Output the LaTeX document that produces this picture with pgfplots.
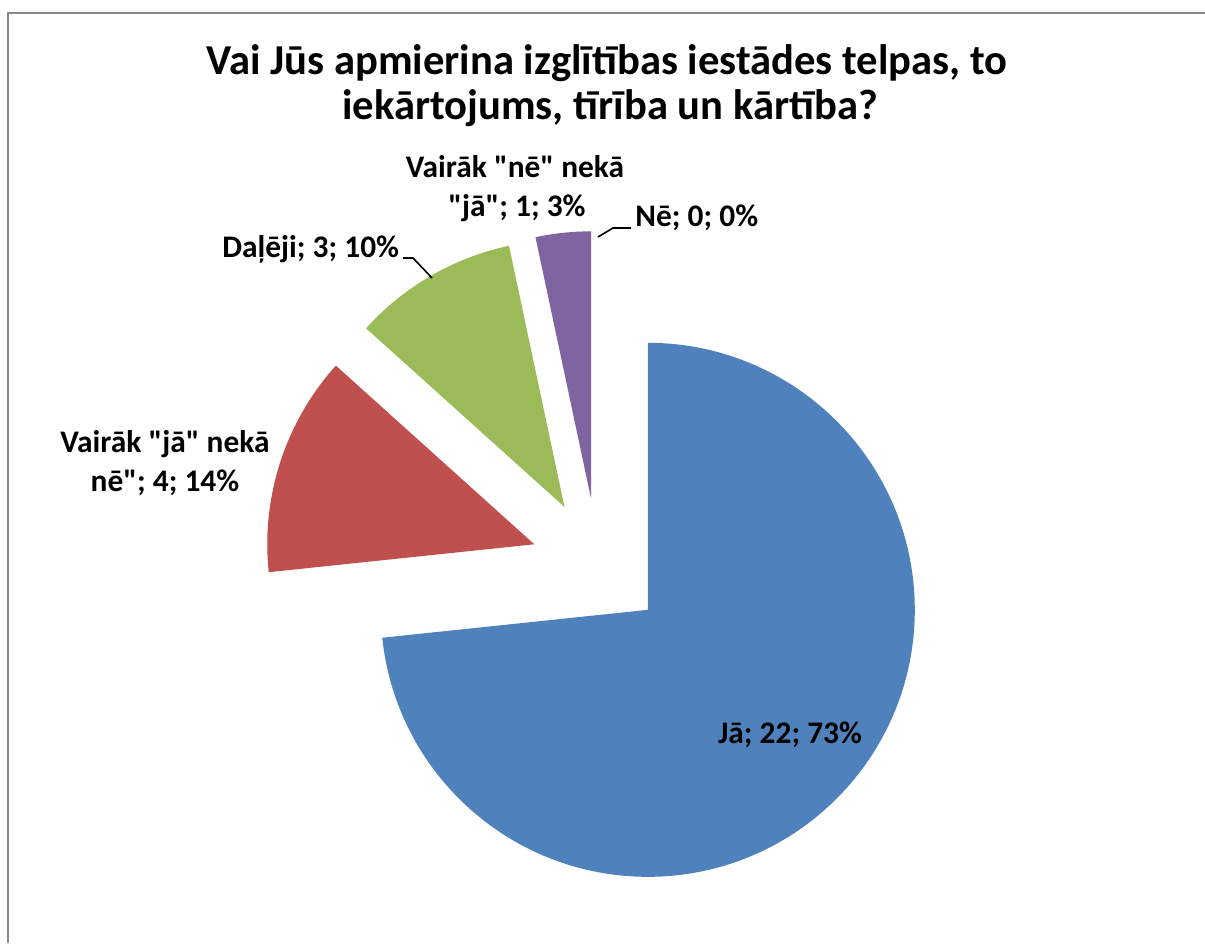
\documentclass[border=0pt]{standalone}
\usepackage{fontspec}
\setmainfont{Carlito}[Ligatures=TeXOff]
\usepackage{pgfplots}
\usepackage{pgfplotstable}
\pgfplotsset{compat=1.18}
\definecolor{sblue}{HTML}{4F81BD}
\definecolor{sred}{HTML}{C0504D}
\definecolor{sgreen}{HTML}{9BBB59}
\definecolor{spurple}{HTML}{8064A2}
\definecolor{frame}{HTML}{878787}
\newcommand\q{\char34\relax}

\pgfplotstableread{
label value
Ja 22
VairakJa 4
Daleji 3
VairakNe 1
Ne 0
}\piedata

\pgfplotstablegetelem{0}{value}\of\piedata \edef\vA{\pgfplotsretval}
\pgfplotstablegetelem{1}{value}\of\piedata \edef\vB{\pgfplotsretval}
\pgfplotstablegetelem{2}{value}\of\piedata \edef\vC{\pgfplotsretval}
\pgfplotstablegetelem{3}{value}\of\piedata \edef\vD{\pgfplotsretval}
\pgfplotstablegetelem{4}{value}\of\piedata \edef\vE{\pgfplotsretval}
\pgfmathsetmacro\total{\vA+\vB+\vC+\vD+\vE}
% angles, clockwise from 12 o'clock
\pgfmathsetmacro\aA{90}
\pgfmathsetmacro\aB{\aA-360*\vA/\total}
\pgfmathsetmacro\aC{\aB-360*\vB/\total}
\pgfmathsetmacro\aD{\aC-360*\vC/\total}
\pgfmathsetmacro\aE{\aD-360*\vD/\total}
\pgfmathsetmacro\mA{(\aA+\aB)/2}
\pgfmathsetmacro\mB{(\aB+\aC)/2}
\pgfmathsetmacro\mC{(\aC+\aD)/2}
\pgfmathsetmacro\mD{(\aD+\aE)/2}
\def\R{133.5pt}
\def\X{33.5pt}

\begin{document}
\begin{tikzpicture}
\begin{axis}[
  width=602.5pt, height=471.5pt, scale only axis,
  xmin=0, xmax=1205, ymin=0, ymax=943,
  hide axis, clip=false,
]
% frame
\draw[frame, line width=1.3pt] (axis cs:8,0) -- (axis cs:8,930) -- (axis cs:1205,930);
% slices
\fill[sblue] (axis cs:598,378) ++(\mA:\X) -- ++(\aA:\R) arc[start angle=\aA, end angle=\aB, radius=\R] -- cycle;
\fill[sred] (axis cs:598,378) ++(\mB:\X) -- ++(\aB:\R) arc[start angle=\aB, end angle=\aC, radius=\R] -- cycle;
\fill[sgreen] (axis cs:598,378) ++(\mC:\X) -- ++(\aC:\R) arc[start angle=\aC, end angle=\aD, radius=\R] -- cycle;
\fill[spurple] (axis cs:598,378) ++(\mD:\X) -- ++(\aD:\R) arc[start angle=\aD, end angle=\aE, radius=\R] -- cycle;
% leader lines
\draw[black, line width=0.8pt] (axis cs:598,706) -- (axis cs:613,715) -- (axis cs:631,715);
\draw[black, line width=0.8pt] (axis cs:403,685) -- (axis cs:413,685) -- (axis cs:432,665);
% title
\node[anchor=base, inner sep=0pt, font=\fontsize{21.3}{25}\selectfont\bfseries] at (axis cs:607,868) {Vai Jūs apmierina izglītības iestādes telpas, to};
\node[anchor=base, inner sep=0pt, font=\fontsize{21.3}{25}\selectfont\bfseries] at (axis cs:610,823) {iekārtojums, tīrība un kārtība?};
% labels
\tikzset{lab/.style={inner sep=0pt, font=\fontsize{15.7}{18}\selectfont\bfseries}}
\node[lab, anchor=base] at (axis cs:515,765) {Vairāk \q nē\q{} nekā};
\node[lab, anchor=base] at (axis cs:517,726) {\q jā\q; 1; 3\%};
\node[lab, anchor=base west] at (axis cs:635,716) {Nē; 0; 0\%};
\node[lab, anchor=base west] at (axis cs:222,685) {Daļēji; 3; 10\%};
\node[lab, anchor=base] at (axis cs:165,490) {Vairāk \q jā\q{} nekā};
\node[lab, anchor=base] at (axis cs:165,451) {nē\q; 4; 14\%};
\node[lab, anchor=base] at (axis cs:790,200) {Jā; 22; 73\%};
\end{axis}
\pgfresetboundingbox
\path (current axis.south west) rectangle (current axis.north east);
\end{tikzpicture}
\end{document}
